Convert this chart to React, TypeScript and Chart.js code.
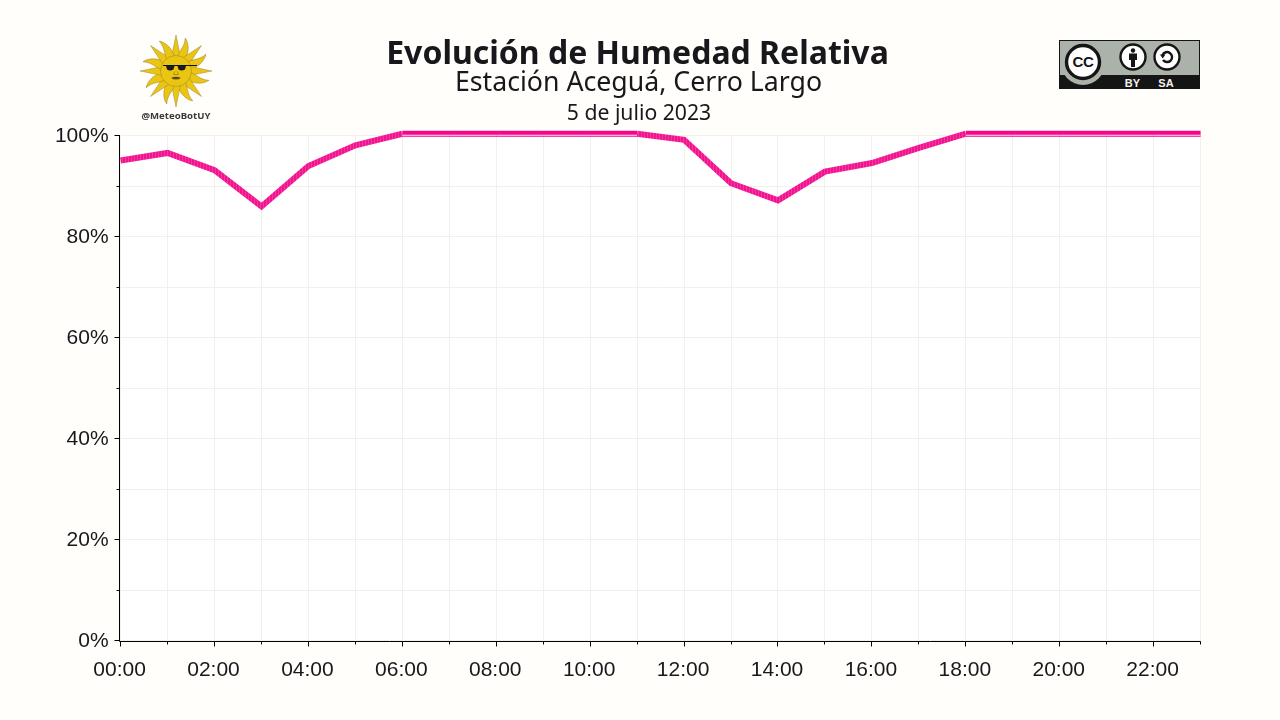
import { useEffect, useRef } from 'react'
import { Chart, registerables } from 'chart.js'

Chart.register(...registerables)

const HOURS = ['00:00', '01:00', '02:00', '03:00', '04:00', '05:00', '06:00', '07:00', '08:00', '09:00', '10:00', '11:00', '12:00', '13:00', '14:00', '15:00', '16:00', '17:00', '18:00', '19:00', '20:00', '21:00', '22:00', '23:00']
const HUMIDITY = [95.1, 96.6, 93.2, 86.0, 94.0, 98.1, 100.4, 100.4, 100.4, 100.4, 100.4, 100.4, 99.2, 90.6, 87.2, 92.9, 94.6, 97.6, 100.4, 100.4, 100.4, 100.4, 100.4, 100.4]
// thin pale seam that runs through the line where it sits on the top edge
const SEAM = [null, null, null, null, null, null, 100.1, 100.1, 100.1, 100.1, 100.1, 100.1, null, null, null, null, null, null, 100.1, 100.1, 100.1, 100.1, 100.1, 100.1]

const INK = '#18181c'
const GRID = '#f1f0ea'
const PAGE = '#fffefa'
const PINK = '#f5058c'
const SANS = "'Noto Sans', sans-serif"

const plotBackground = {
  id: 'plotBackground',
  beforeDraw(chart: any) {
    const { ctx, chartArea: a } = chart
    ctx.save()
    ctx.fillStyle = '#ffffff'
    ctx.fillRect(a.left, a.top, a.right - a.left, a.bottom - a.top)
    ctx.restore()
  },
}

// chart.js has a single tick length per axis, these alternate long and short
const axisTicks = {
  id: 'axisTicks',
  afterDraw(chart: any) {
    const { ctx, scales, chartArea: a } = chart
    const axisX = Math.floor(a.left) - 0.5
    const axisY = Math.floor(a.bottom) + 1.5
    ctx.save()
    ctx.strokeStyle = '#000'
    ctx.lineWidth = 1
    ctx.beginPath()
    ctx.moveTo(axisX, Math.floor(a.top))
    ctx.lineTo(axisX, axisY)
    ctx.lineTo(a.right, axisY)
    scales.x.ticks.forEach((_: any, i: number) => {
      const px = Math.floor(scales.x.getPixelForTick(i)) + 0.5
      ctx.moveTo(px, axisY)
      ctx.lineTo(px, axisY + (i % 2 === 0 ? 5 : 3))
    })
    scales.y.ticks.forEach((t: any, i: number) => {
      const py = Math.floor(scales.y.getPixelForTick(i)) + 0.5
      ctx.moveTo(axisX, py)
      ctx.lineTo(axisX - (t.value % 20 === 0 ? 5 : 3), py)
    })
    ctx.stroke()
    ctx.restore()
  },
}

// sloped parts of the line look banded in the original
function stripes(ctx: CanvasRenderingContext2D) {
  const tile = document.createElement('canvas')
  tile.width = 3
  tile.height = 1
  const t = tile.getContext('2d') as CanvasRenderingContext2D
  t.fillStyle = '#f0148f'
  t.fillRect(0, 0, 3, 1)
  t.fillStyle = '#f736a1'
  t.fillRect(2, 0, 1, 1)
  return ctx.createPattern(tile, 'repeat')
}

function SunLogo() {
  const rays = Array.from({ length: 16 }, (_, i) => i * 22.5)
  return (
    <svg width={90} height={95} viewBox="0 0 90 95" style={{ position: 'absolute', left: 131, top: 30 }}>
      <g transform="translate(45 41)" stroke="#8a7420" strokeWidth={0.4} fill="#eac514">
        {rays.map((deg, i) => (
          <path
            key={deg}
            transform={`rotate(${deg})`}
            d={i % 2 === 0
              ? 'M-4.5 -14 L0 -36 L4.5 -14 Z'
              : 'M-4 -14 C-5 -20 -1 -25 -4 -34 C2 -30 5 -22 4 -14 Z'}
          />
        ))}
        <circle r={15.5} />
      </g>
      <g transform="translate(45 41)">
        <path d="M-13 -5.5 H21" stroke="#111" strokeWidth={1.2} />
        <path d="M-10 -5 H-1.5 L-2.5 -1.5 Q-6 0.5 -9 -1.5 Z M1.5 -5 H10 L9 -1.5 Q5.5 0.5 2.5 -1.5 Z" fill="#1c1c1c" />
        <path d="M-5 7 Q0 4.5 5 7 Q0 10 -5 7 Z" fill="#5a4a10" />
        <path d="M-1.2 0.5 L-2.5 3.5 H2.5 L1.2 0.5" fill="none" stroke="#8a7010" strokeWidth={0.6} />
      </g>
      <text x={45} y={88.5} textAnchor="middle" fontFamily={SANS} fontWeight={700} fontSize={9.6} fill="#3a3a3a">@MeteoBotUY</text>
    </svg>
  )
}

function CcBadge() {
  return (
    <svg width={141} height={49} viewBox="0 0 141 49" style={{ position: 'absolute', left: 1059, top: 40 }}>
      <rect x={0.5} y={0.5} width={140} height={48} fill="#abb2aa" stroke="#151515" />
      <rect x={0} y={35} width={141} height={14} fill="#151515" />
      <circle cx={24} cy={23} r={22} fill="#abb2aa" />
      <circle cx={24} cy={22} r={16.5} fill="#fff" stroke="#151515" strokeWidth={3.4} />
      <text x={24} y={27} textAnchor="middle" fontFamily="'Liberation Sans', sans-serif" fontWeight={700} fontSize={15} letterSpacing={-0.4} fill="#151515">CC</text>
      <circle cx={74} cy={17} r={12.5} fill="#fff" stroke="#151515" strokeWidth={2.4} />
      <circle cx={74} cy={10.5} r={2.2} fill="#151515" />
      <path d="M70 13.5 H78 V20 H76 V27 H72 V20 H70 Z" fill="#151515" />
      <circle cx={108} cy={17} r={12.5} fill="#fff" stroke="#151515" strokeWidth={2.4} />
      <path d="M103.5 15 A5 5 0 1 1 104 20" fill="none" stroke="#151515" strokeWidth={2.4} />
      <path d="M101 14.5 H106.5 L103.7 18.5 Z" fill="#151515" />
      <text x={73.5} y={46.5} textAnchor="middle" fontFamily="'Liberation Sans', sans-serif" fontWeight={700} fontSize={11} fill="#f2f2f2">BY</text>
      <text x={107} y={46.5} textAnchor="middle" fontFamily="'Liberation Sans', sans-serif" fontWeight={700} fontSize={11} fill="#f2f2f2">SA</text>
    </svg>
  )
}

const headStyle = { position: 'absolute', left: 0, width: 1277, textAlign: 'center', fontFamily: SANS, color: INK, whiteSpace: 'nowrap', lineHeight: 1 } as const

export default function App() {
  const canvasRef = useRef<HTMLCanvasElement>(null)

  useEffect(() => {
    if (!canvasRef.current) return
    const tickFont = { family: "'Liberation Sans', Arial, sans-serif", size: 21 }
    const banded = stripes(canvasRef.current.getContext('2d') as CanvasRenderingContext2D)

    const chart = new Chart(canvasRef.current, {
      type: 'line',
      data: {
        labels: HOURS,
        datasets: [
          { label: 'Costura', data: SEAM, borderColor: '#ffe6f3', borderWidth: 1, pointRadius: 0, clip: false, order: 1 } as any,
          {
            label: 'Humedad',
            data: HUMIDITY,
            borderColor: PINK,
            borderWidth: 6,
            pointRadius: 0,
            tension: 0,
            borderJoinStyle: 'miter',
            clip: false,
            order: 2,
            segment: { borderColor: (c: any) => (c.p0.parsed.y === c.p1.parsed.y ? PINK : banded) },
          } as any,
        ],
      },
      options: {
        responsive: false,
        animation: false,
        layout: { padding: { top: 135.75, right: 79.4, left: 0, bottom: 0 } },
        plugins: { legend: { display: false }, tooltip: { enabled: false }, title: { display: false } },
        scales: {
          x: {
            afterFit: (s: any) => { s.height = 79.25 },
            grid: { color: GRID, drawTicks: false },
            border: { display: false },
            ticks: {
              autoSkip: false, maxRotation: 0, color: INK, font: tickFont, padding: 17, labelOffset: -1,
              callback: (_v: any, i: number) => (i % 2 === 0 ? HOURS[i] : ''),
            },
          },
          y: {
            min: 0,
            max: 100,
            afterFit: (s: any) => { s.width = 120.6 },
            grid: { color: GRID, drawTicks: false },
            border: { display: false },
            ticks: {
              stepSize: 10, color: INK, font: tickFont, padding: 12,
              callback: (v: any) => (Number(v) % 20 === 0 ? `${v}%` : ''),
            },
          },
        },
      },
      plugins: [plotBackground, axisTicks],
    })

    return () => chart.destroy()
  }, [])

  return (
    <div style={{ position: 'fixed', inset: 0, width: 1280, height: 720, background: PAGE, overflow: 'hidden' }}>
      <canvas ref={canvasRef} width={1280} height={720} style={{ position: 'absolute', left: 0, top: 0 }} />
      <div style={{ ...headStyle, width: 1275, top: 36, fontSize: 32, fontWeight: 700 }}>Evolución de Humedad Relativa</div>
      <div style={{ ...headStyle, top: 68, fontSize: 26.7 }}>Estación Aceguá, Cerro Largo</div>
      <div style={{ ...headStyle, width: 1278, top: 101, fontSize: 21.2 }}>5 de julio 2023</div>
      <SunLogo />
      <CcBadge />
    </div>
  )
}
